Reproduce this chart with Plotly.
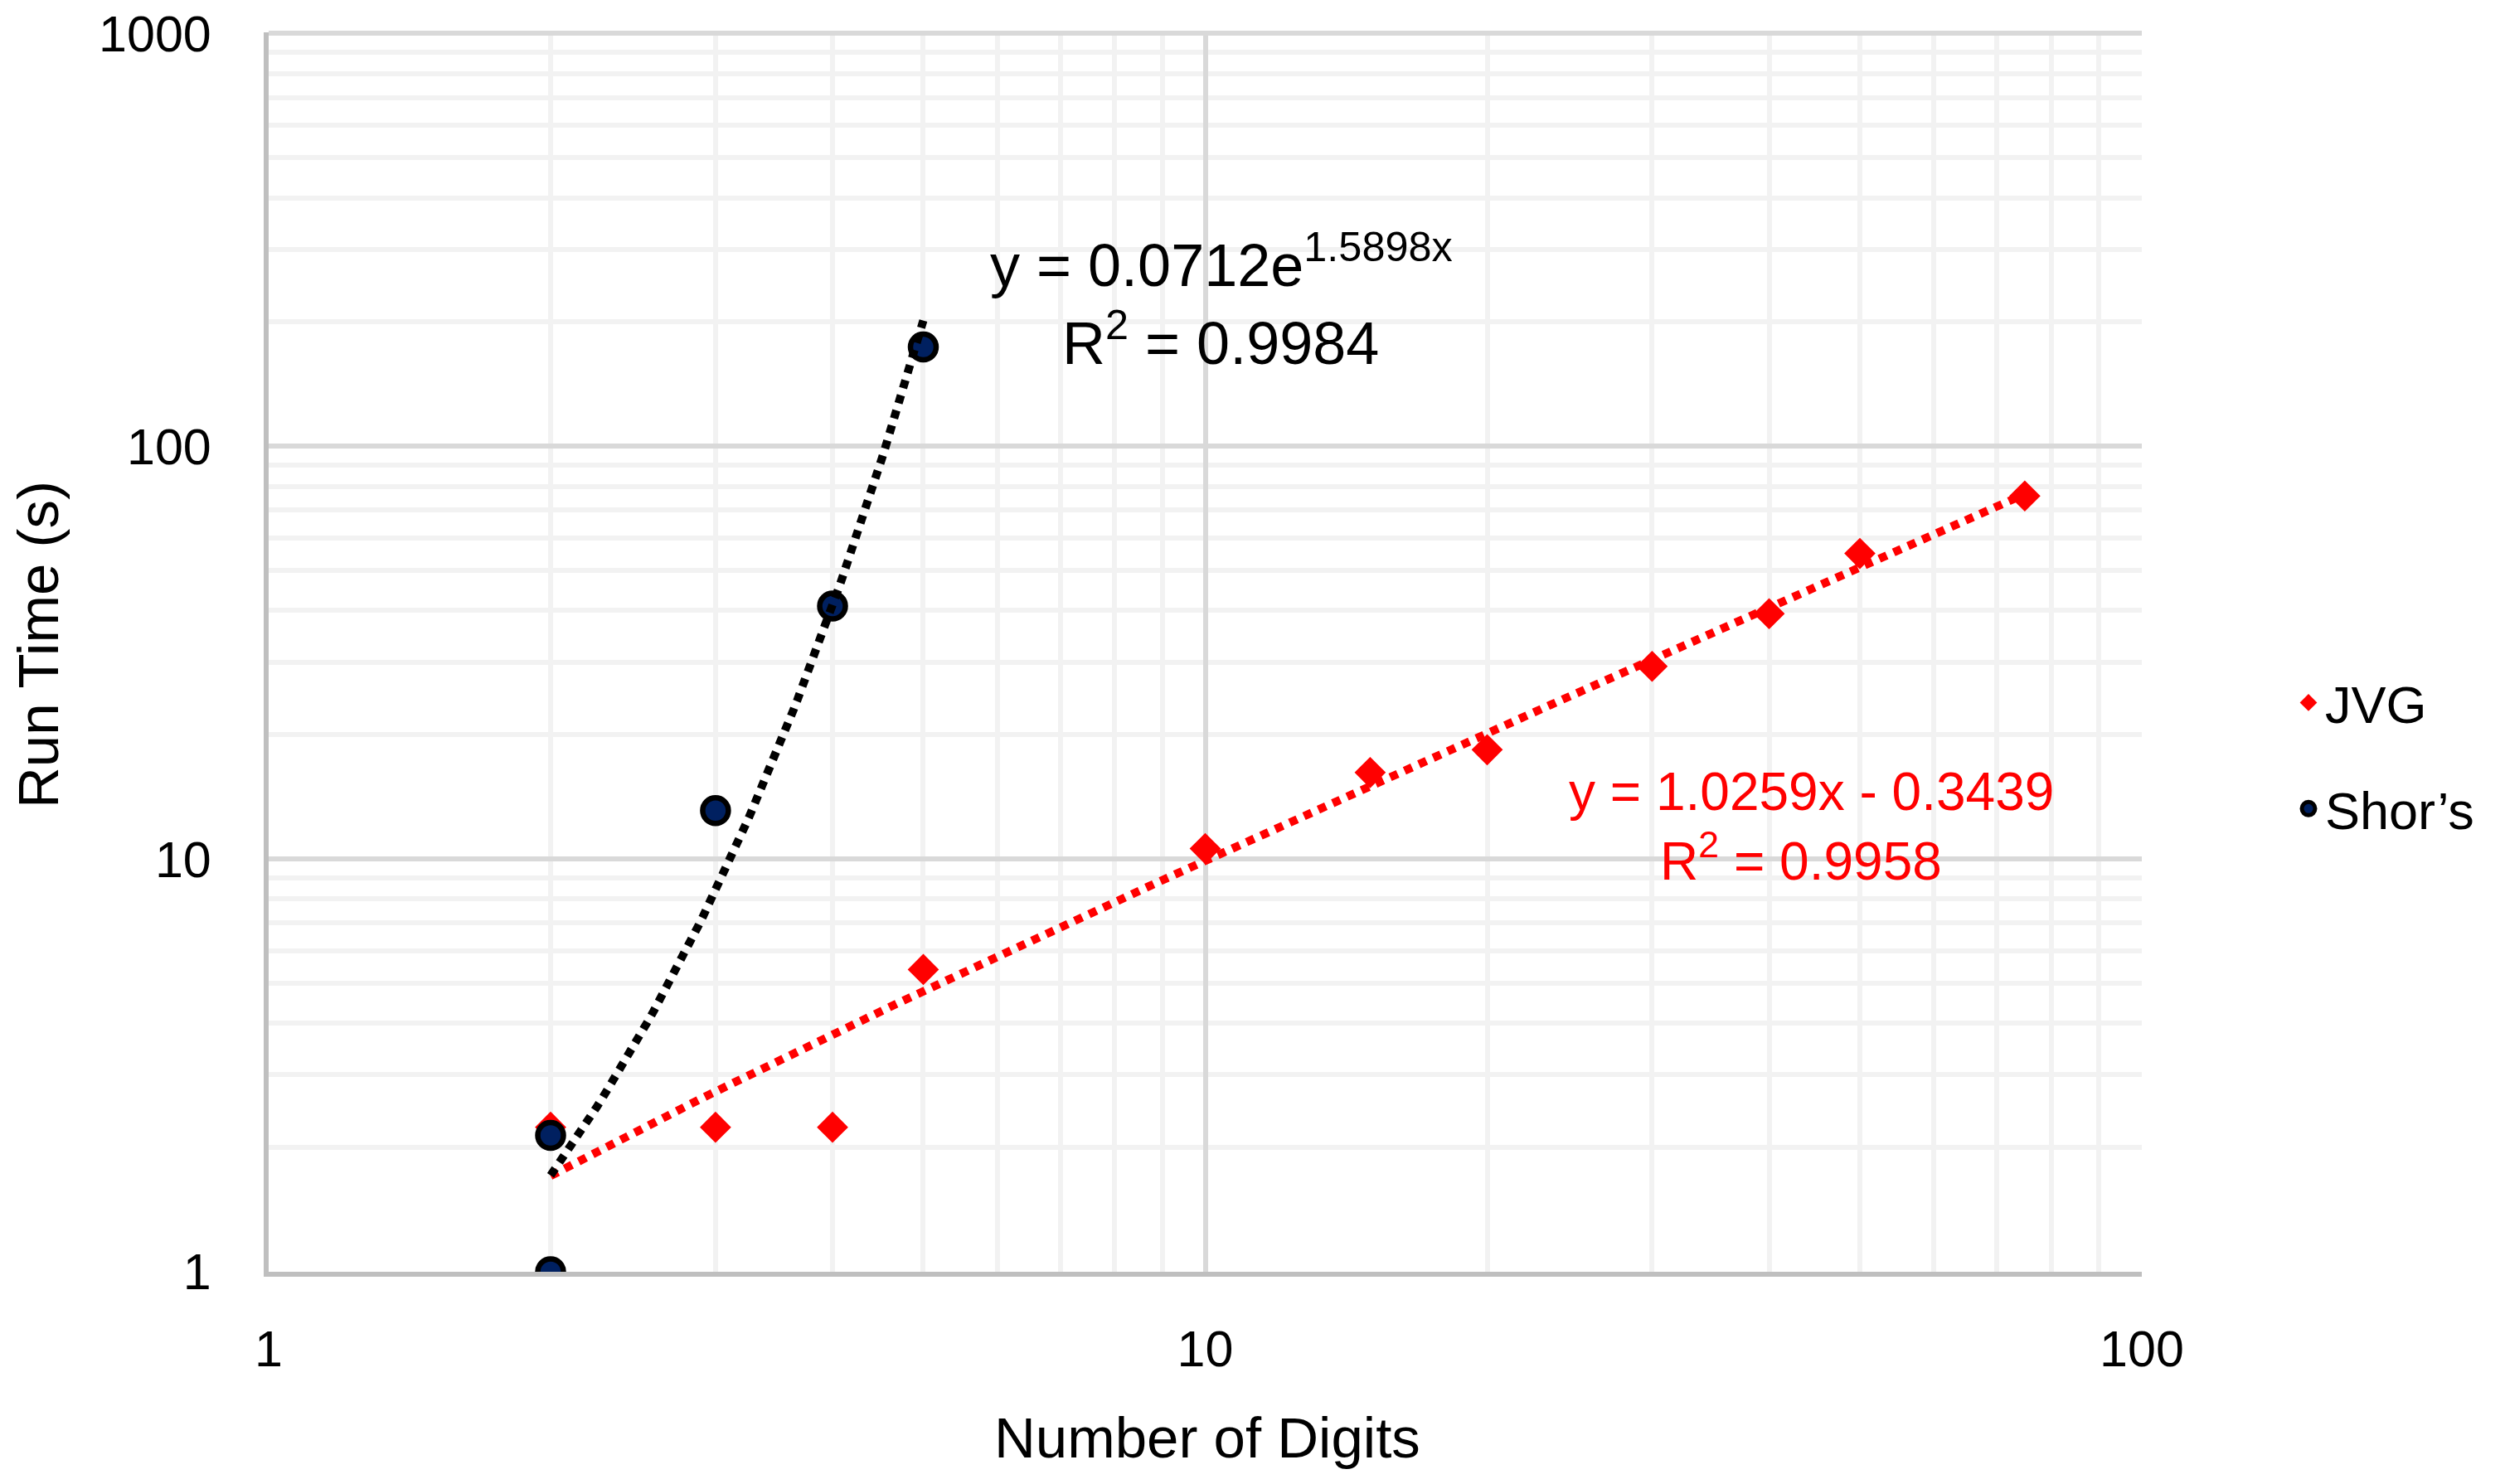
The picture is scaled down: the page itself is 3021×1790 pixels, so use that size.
import numpy as np
import plotly.graph_objects as go

# JVG run times
jvg_digits = [2, 3, 4, 5, 10, 15, 20, 30, 40, 50, 75]
jvg_time = [2.24, 2.24, 2.24, 5.4, 10.6, 16.2, 18.4, 29.3, 39.3, 55.0, 75.8]

# Shor's run times
shor_digits = [2, 2, 3, 4, 5]
shor_time = [1.0, 2.14, 13.1, 41.0, 174.0]

# trendline fits as printed on the chart
jvg_slope, jvg_intercept, jvg_r2 = 1.0259, -0.3439, 0.9958
shor_coef, shor_rate, shor_r2 = 0.0712, 1.5898, 0.9984

x_ticks = [1, 10, 100]
y_ticks = [1, 10, 100, 1000]

FONT = "Liberation Sans, Arial, sans-serif"
RED = "#FF0000"
NAVY = "#002060"

# page size and plot area in page pixels; the page body adds an 8px margin
W, H = 3021, 1790
PAD = 8
L, R, T, B = 324, 2583, 39, 1534
Y_TOP = 3.003  # a hair above 1000 so the top grid line is kept


def px_x(p):
    return (p - L) / (R - L)


def px_y(p):
    return (B - p) / (B - T)


jvg_fit_x = np.geomspace(min(jvg_digits), max(jvg_digits), 200)
jvg_fit_y = jvg_slope * jvg_fit_x + jvg_intercept
shor_fit_x = np.linspace(min(shor_digits), max(shor_digits), 100)
shor_fit_y = shor_coef * np.exp(shor_rate * shor_fit_x)

fig = go.Figure()

fig.add_trace(
    go.Scatter(
        x=jvg_digits,
        y=jvg_time,
        mode="markers",
        name="JVG",
        legendgroup="jvg",
        marker=dict(symbol="diamond", size=29, color=RED, line=dict(width=0)),
    )
)
fig.add_trace(
    go.Scatter(
        x=shor_digits,
        y=shor_time,
        mode="markers",
        name="Shor\u2019s",
        legendgroup="shor",
        marker=dict(symbol="circle", size=31, color=NAVY, line=dict(color="black", width=6.5)),
    )
)
# dotted trendlines drawn over the markers
fig.add_trace(
    go.Scatter(
        x=jvg_fit_x,
        y=jvg_fit_y,
        mode="lines",
        showlegend=False,
        line=dict(color=RED, width=10, dash="10px,9px"),
        hoverinfo="skip",
    )
)
fig.add_trace(
    go.Scatter(
        x=shor_fit_x,
        y=shor_fit_y,
        mode="lines",
        showlegend=False,
        line=dict(color="black", width=10, dash="10px,9px"),
        hoverinfo="skip",
    )
)

texts = [
    # (text, centre x px, baseline px, size, colour)
    (f"y = {shor_coef}e<sup>{shor_rate}x</sup>", 1473, 346, 72, "black"),
    (f"R<sup>2</sup> = {shor_r2}", 1472, 440, 72, "black"),
    (f"y = {jvg_slope}x - {abs(jvg_intercept)}", 2184, 978, 64, RED),
    (f"R<sup>2</sup> = {jvg_r2}", 2172, 1062, 64, RED),
]
for text, xp, base, size, color in texts:
    fig.add_annotation(
        text=text,
        xref="paper",
        yref="paper",
        x=px_x(xp),
        y=px_y(base + 0.212 * size + 1),
        xanchor="center",
        yanchor="bottom",
        showarrow=False,
        font=dict(family=FONT, size=size, color=color),
    )

# axis titles
fig.add_annotation(
    text="Number of Digits",
    xref="paper",
    yref="paper",
    x=px_x(1456),
    y=px_y(1759 + 0.212 * 69 + 1),
    xanchor="center",
    yanchor="bottom",
    showarrow=False,
    font=dict(family=FONT, size=69, color="black"),
)
fig.add_annotation(
    text="Run Time (s)",
    xref="paper",
    yref="paper",
    x=px_x(46),
    y=px_y(778),
    xanchor="center",
    yanchor="middle",
    textangle=-90,
    borderpad=0,
    showarrow=False,
    font=dict(family=FONT, size=69, color="black"),
)

axis_common = dict(
    type="log",
    automargin=False,
    showgrid=True,
    gridcolor="#D9D9D9",
    gridwidth=6,
    showline=True,
    linecolor="#BFBFBF",
    linewidth=6,
    ticks="",
    ticklabeloverflow="allow",
    zeroline=False,
    tickfont=dict(family=FONT, size=61, color="black"),
    minor=dict(dtick="D1", showgrid=True, gridcolor="#F2F2F2", gridwidth=6, ticks=""),
)

fig.update_layout(
    width=W - 2 * PAD,
    height=H - 2 * PAD,
    autosize=False,
    margin=dict(l=L - PAD, r=W - PAD - R, t=T - PAD, b=H - PAD - B, autoexpand=False),
    paper_bgcolor="white",
    plot_bgcolor="white",
    font=dict(family=FONT, color="black"),
    xaxis=dict(
        axis_common,
        range=[0, 2],
        tickvals=x_ticks,
        ticktext=[str(v) for v in x_ticks],
        ticklabelstandoff=35,
    ),
    yaxis=dict(
        axis_common,
        range=[0, Y_TOP],
        tickvals=y_ticks,
        ticktext=[str(v) for v in y_ticks],
        ticklabelstandoff=51,
    ),
    legend=dict(
        x=px_x(2764),
        y=px_y(800),
        xanchor="left",
        yanchor="top",
        font=dict(family=FONT, size=63, color="black"),
        tracegroupgap=43,
        bgcolor="rgba(0,0,0,0)",
    ),
    showlegend=True,
)

fig.write_html("out.html")
